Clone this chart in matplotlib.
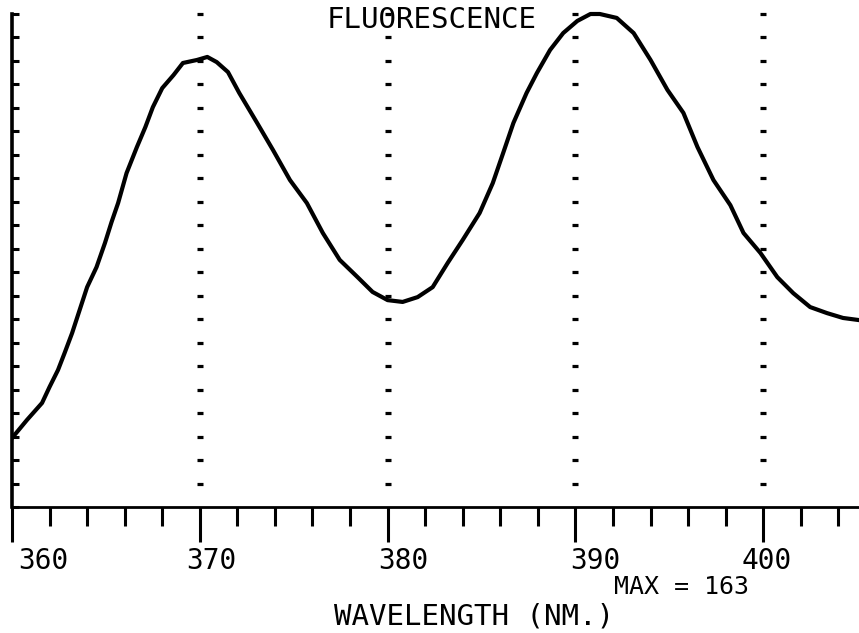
import numpy as np
import matplotlib
matplotlib.use("Agg")
import matplotlib.pyplot as plt
from matplotlib.ticker import MultipleLocator
from matplotlib.transforms import ScaledTranslation

# ---- data ----
wavelength = [360.0, 360.8, 361.6, 362.0, 362.45, 362.8, 363.2, 363.6, 364.0, 364.5,
              364.95, 365.3, 365.65, 366.1, 366.65, 367.1, 367.5, 368.0, 368.6, 369.1,
              369.85, 370.4, 370.9, 371.5, 372.1, 373.05, 373.9, 374.8, 375.7, 376.55,
              377.45, 378.4, 379.2, 380.0, 380.8, 381.6, 382.4, 383.2, 384.0, 384.9,
              385.6, 386.15, 386.7, 387.4, 387.95, 388.65, 389.35, 390.1, 390.8, 391.3,
              392.2, 393.1, 394.0, 394.9, 395.75, 396.5, 397.35, 398.25, 398.95, 399.85,
              400.75, 401.6, 402.5, 403.4, 404.25, 405.1]
intensity = [22.8, 28.8, 34.4, 39.7, 45.3, 50.9, 57.5, 65.1, 72.7, 79.3,
             87.3, 94.2, 100.5, 110.4, 119.0, 125.6, 132.2, 138.5, 142.8, 146.8,
             147.8, 148.8, 147.1, 143.8, 136.9, 127.0, 118.0, 108.1, 100.5, 90.6,
             81.7, 76.0, 71.1, 68.4, 67.8, 69.4, 72.7, 80.7, 88.3, 97.2,
             107.1, 117.0, 127.0, 136.9, 143.5, 151.1, 156.7, 160.7, 163.0, 163.0,
             161.7, 156.7, 147.8, 137.9, 130.3, 119.0, 108.1, 99.8, 90.6, 84.0,
             76.0, 70.7, 66.1, 64.1, 62.5, 61.8]
max_value = 163
major_ticks = [360, 370, 380, 390, 400]
tick_labels = ["360", "370", "380", "390", "400"]
grid_positions = [370, 380, 390, 400]
n_y_divisions = 21
title_text = "FLUORESCENCE"
xlabel_text = "WAVELENGTH (NM.)"

# ---- figure ----
W, H = 859, 633
fig = plt.figure(figsize=(W / 100, H / 100), dpi=100)
fig.patch.set_facecolor("white")
ax = fig.add_axes([12 / W, (H - 507) / H, (W - 12) / W, 507 / H])
ax.set_facecolor("white")

ytick_pos = np.linspace(0, max_value, n_y_divisions + 1)

ax.plot(wavelength, intensity, color="black", lw=3.0, solid_joinstyle="round", zorder=3)

# dotted vertical guide lines
for gx in grid_positions:
    ax.plot([gx] * (len(ytick_pos) - 1), ytick_pos[1:], ls="none", marker="_",
            ms=3.8, mew=2.3, color="black", zorder=2)

ax.set_xlim(360, 405.1)
ax.set_ylim(0, max_value * 507 / 493)

for s in ["top", "right"]:
    ax.spines[s].set_visible(False)
ax.spines["left"].set_linewidth(2.6)
ax.spines["left"].set_bounds(0, max_value)
ax.spines["bottom"].set_linewidth(2.0)

ax.set_yticks(ytick_pos)
ax.set_yticklabels([])
ax.tick_params(axis="y", direction="in", length=5, width=2.2, color="black")

ax.set_xticks(major_ticks)
ax.set_xticklabels(tick_labels, family="DejaVu Sans Mono", fontsize=20)
ax.xaxis.set_minor_locator(MultipleLocator(2))
ax.tick_params(axis="x", which="major", direction="out", length=25, width=2.2,
               pad=4, color="black")
ax.tick_params(axis="x", which="minor", direction="out", length=13.5, width=2.2,
               color="black")

label_dx_px = [31, 12, 16, 20, 3]
for lbl, dx in zip(ax.get_xticklabels(), label_dx_px):
    lbl.set_transform(lbl.get_transform() + ScaledTranslation(dx / 100, 0, fig.dpi_scale_trans))

font = dict(family="DejaVu Sans Mono", color="black")
fig.text(432 / W, 1 - 20 / H, title_text, ha="center", va="center", fontsize=21, **font)
fig.text(681 / W, 1 - 587 / H, f"MAX = {max_value}", ha="center", va="center", fontsize=18, **font)
fig.text(474 / W, 1 - 616 / H, xlabel_text, ha="center", va="center", fontsize=21, **font)

fig.savefig("out.png", dpi=100, facecolor="white")
